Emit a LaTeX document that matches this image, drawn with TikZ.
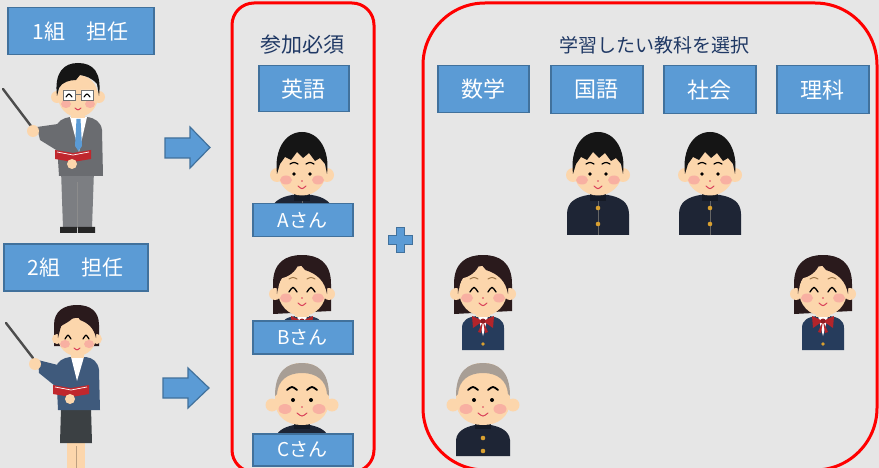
\documentclass[tikz,border=0pt]{standalone}
\usepackage{fontspec}
\setmainfont{Noto Sans CJK JP}
\definecolor{bgc}{HTML}{E6E6E6}
\definecolor{boxfill}{HTML}{5B9BD5}
\definecolor{boxline}{HTML}{41719C}
\definecolor{titlec}{HTML}{1F3864}
\definecolor{skin}{HTML}{FCD6AC}
\definecolor{cheek}{HTML}{F8B0A2}
\definecolor{hairc}{HTML}{151515}
\definecolor{girlhair}{HTML}{2A1A1C}
\definecolor{uniform}{HTML}{1E2535}
\definecolor{blazer}{HTML}{263C5C}
\definecolor{bowc}{HTML}{B3242A}
\definecolor{gold}{HTML}{D9A030}
\definecolor{baldhair}{HTML}{A89E95}
\definecolor{mouthc}{HTML}{D9405A}
\definecolor{suit}{HTML}{6A6C70}
\definecolor{suitdark}{HTML}{7C7E82}
\definecolor{tiec}{HTML}{5B9BD5}
\definecolor{bookred}{HTML}{C0272D}
\definecolor{jacketw}{HTML}{3F5A7C}
\definecolor{skirtc}{HTML}{3B4043}
\definecolor{browc}{HTML}{A0784A}
\tikzset{
  label box/.style={draw=boxline, line width=1.5pt, fill=boxfill, text=white,
    inner sep=0pt, anchor=north west},
  frame/.style={draw=red, line width=3pt},
  title text/.style={text=titlec, font=\fontsize{19}{22}\selectfont},
  blue arrow/.style={fill=boxfill, draw=boxline, line width=1.2pt, line join=miter},
  % schoolboy in a stand-collar uniform, origin at the eyes
  boy/.pic={
    \fill[uniform] (-31,63) -- (-31,42) .. controls (-31,30) and (-22,25) .. (-10,23)
      -- (10,23) .. controls (22,25) and (31,30) .. (31,42) -- (31,63) -- cycle;
    \fill[uniform!70!black] (-8,19) rectangle (8,29);
    \draw[black!60, line width=0.6pt] (0,29) -- (0,63);
    \fill[gold] (0,36) circle (2.3) (0,52) circle (2.3);
    \fill[skin] (-25,3) circle (7) (25,3) circle (7);
    \fill[skin] (0,0) ellipse (24 and 23.5);
    \fill[hairc] (-25,2) .. controls (-28,-22) and (-17,-40) .. (0,-40)
      .. controls (17,-40) and (28,-22) .. (25,2) -- (23,-8) -- (18,-14) -- (13,-11)
      -- (7,-19) -- (1,-14) -- (-5,-20) -- (-11,-12) -- (-17,-15) -- (-22,-8) -- cycle;
    \fill[cheek] (-16,8) ellipse (6 and 4.5) (16,8) ellipse (6 and 4.5);
    \fill[black] (-8,2) circle (1.8) (8,2) circle (1.8);
    \draw[black, line width=1.2pt, line cap=round] (-12,-8) .. controls (-8,-10) .. (-4,-8)
      (4,-8) .. controls (8,-10) .. (12,-8);
    \fill[mouthc] (0,9) circle (0.8);
    \draw[mouthc, line width=1pt, line cap=round] (-4,14) .. controls (0,17.5) .. (4,14);
  },
  % schoolgirl in a blazer with a bow, origin at the eyes
  girl/.pic={
    \fill[girlhair] (-29,24) -- (-29,-6) .. controls (-29,-28) and (-16,-35) .. (0,-35)
      .. controls (16,-35) and (29,-28) .. (29,-6) -- (29,21) -- cycle;
    \fill[blazer] (-21,60) -- (-21,38) .. controls (-21,30) and (-15,27) .. (-6,26)
      -- (6,26) .. controls (15,27) and (21,30) .. (21,38) -- (21,60) -- cycle;
    \fill[white] (-5,26) -- (5,26) -- (0,46) -- cycle;
    \fill[bowc] (0,31) -- (-11,26) -- (-10,38) -- cycle (0,31) -- (11,26) -- (10,38) -- cycle
      (0,31) -- (-5,42) -- (-2,43) -- cycle (0,31) -- (5,42) -- (2,43) -- cycle;
    \fill[bowc!80!black] (0,31) circle (2.5);
    \fill[gold] (0,54) circle (1.8);
    \fill[skin] (-7,20) rectangle (7,27);
    \fill[skin] (-27,4) circle (6) (27,4) circle (6);
    \fill[skin] (0,1) ellipse (24 and 25);
    \fill[girlhair] (-25,4) .. controls (-27,-24) and (-14,-33) .. (0,-33)
      .. controls (14,-33) and (27,-24) .. (25,4) .. controls (23,-8) and (16,-16) .. (3,-20)
      -- (-3,-27) .. controls (-6,-18) and (-14,-13) .. (-20,-12)
      .. controls (-23,-8) and (-24,-3) .. (-25,4) -- cycle;
    \fill[cheek] (-16,8) ellipse (6 and 4.5) (16,8) ellipse (6 and 4.5);
    \draw[browc, line width=1pt, line cap=round] (-13,-11) .. controls (-9,-13) .. (-5,-11)
      (5,-11) .. controls (9,-13) .. (13,-11);
    \draw[black, line width=1.3pt, line cap=round] (-13,2) .. controls (-9,-4) .. (-5,2)
      (5,2) .. controls (9,-4) .. (13,2);
    \fill[mouthc] (0,8) circle (0.8);
    \draw[mouthc, line width=1pt, line cap=round] (-4,13) .. controls (0,16.5) .. (4,13);
  },
  % schoolboy with a buzz cut, origin at the eyes
  buzz/.pic={
    \fill[uniform] (-27,56) -- (-27,40) .. controls (-26,31) and (-18,27) .. (-8,25)
      -- (8,25) .. controls (18,27) and (26,31) .. (27,40) -- (27,56) -- cycle;
    \fill[uniform!70!black] (-8,21) rectangle (8,29);
    \fill[gold] (0,38) circle (2.3) (0,51) circle (2.3);
    \fill[skin] (-30,5) circle (6.5) (30,5) circle (6.5);
    \fill[skin] (-27,0) .. controls (-27,-29) and (-15,-37) .. (0,-37)
      .. controls (15,-37) and (27,-29) .. (27,0) .. controls (27,17) and (15,25) .. (0,25)
      .. controls (-15,25) and (-27,17) .. (-27,0) -- cycle;
    \fill[baldhair] (-27,-4) .. controls (-27,-29) and (-15,-37) .. (0,-37)
      .. controls (15,-37) and (27,-29) .. (27,-4) -- (25,-6) .. controls (24,-20) and (14,-27) .. (0,-27)
      .. controls (-14,-27) and (-24,-20) .. (-25,-6) -- cycle;
    \fill[cheek] (-17,9) ellipse (6.5 and 5) (17,9) ellipse (6.5 and 5);
    \fill[black] (-9,0) circle (2) (9,0) circle (2);
    \draw[black, line width=1.8pt, line cap=round] (-15,-10) .. controls (-10,-14) .. (-5,-10)
      (5,-10) .. controls (10,-14) .. (15,-10);
    \fill[mouthc] (0,7) circle (0.8);
    \draw[mouthc, line width=1pt, line cap=round] (-5,13) .. controls (0,17) .. (5,13);
  },
}
\begin{document}
\begin{tikzpicture}[x=1pt, y=-1pt]
\useasboundingbox (0,0) rectangle (879,468);
\fill[bgc] (0,0) rectangle (879,468);

% ---------- class 1 teacher ----------
\node[label box, minimum width=146pt, minimum height=47pt,
  font=\fontsize{21}{25}\selectfont] (t1) at (7,7) {1組　担任};
\draw[line width=2.4pt, black!70, line cap=round] (3,89) -- (31,126);
\fill[suitdark] (61,170) -- (94,170) -- (92,228) -- (63,228) -- cycle;
\draw[black!45, line width=0.6pt] (77,182) -- (77,228);
\fill[black!85] (60,227) rectangle (77,233) (78,227) rectangle (95,233);
\fill[suit] (56,128) .. controls (57,121) and (63,118) .. (70,117) -- (87,117)
  .. controls (95,118) and (101,122) .. (102,130) -- (103,176) -- (59,176) -- cycle;
\fill[white] (70,117) -- (87,117) -- (79,152) -- cycle;
\fill[tiec] (76.5,119) -- (80.5,119) -- (82,146) -- (78.5,151) -- (75,146) -- cycle;
\fill[suit] (58,124) -- (37,127) -- (40,140) -- (61,153) -- cycle;
\fill[skin] (33,131) circle (6);
\fill[bookred] (55,150) -- (73,153) -- (91,150) -- (91,159) -- (73,162) -- (55,159) -- cycle;
\draw[white, line width=0.7pt] (57,152) -- (73,155) -- (89,152);
\fill[skin] (72,164) circle (5);
\fill[skin] (71,108) rectangle (85,118);
\fill[skin] (57,97) circle (6) (99,97) circle (6);
\fill[skin] (78,96) ellipse (20 and 21);
\fill[hairc] (57,96) .. controls (54,72) and (64,63) .. (78,63)
  .. controls (93,63) and (102,72) .. (99,96) -- (97,84) .. controls (92,78) and (86,76) .. (80,75)
  -- (76,80) .. controls (70,80) and (62,82) .. (59,88) -- cycle;
\fill[cheek] (66,104) ellipse (5 and 4) (90,104) ellipse (5 and 4);
\draw[black!55, fill=white, line width=0.8pt] (63,90) rectangle (75,100) (81,90) rectangle (93,100);
\draw[black!55, line width=0.8pt] (75,94) -- (81,94);
\draw[black, line width=1.1pt, line cap=round] (66,97) .. controls (69,93) .. (72,97)
  (84,97) .. controls (87,93) .. (90,97);
\draw[mouthc, line width=1pt, line cap=round] (75,108) .. controls (78,110.5) .. (81,108);

\draw[blue arrow] (165,138) -- (190,138) -- (190,127) -- (210,147.5) -- (190,168)
  -- (190,158) -- (165,158) -- cycle;

% ---------- class 2 teacher ----------
\node[label box, minimum width=144pt, minimum height=47pt,
  font=\fontsize{21}{25}\selectfont] (t2) at (3,243) {2組　担任};
\draw[line width=2.4pt, black!70, line cap=round] (6,323) -- (33,358);
\fill[skin] (67,440) rectangle (85,468);
\draw[skin!75!black, line width=0.6pt] (76,446) -- (76,468);
\fill[skirtc] (61,408) -- (91,408) -- (92,443) -- (60,443) -- cycle;
\fill[jacketw] (56,368) .. controls (57,361) and (63,358) .. (70,357) -- (86,357)
  .. controls (93,358) and (98,362) .. (99,370) -- (100,410) -- (58,410) -- cycle;
\fill[white] (71,357) -- (84,357) -- (77,381) -- cycle;
\fill[jacketw] (58,365) -- (38,360) -- (39,373) -- (60,390) -- cycle;
\fill[skin] (35,364) circle (6);
\fill[bookred] (53,385) -- (71,388) -- (89,385) -- (89,394) -- (71,397) -- (53,394) -- cycle;
\draw[white, line width=0.7pt] (55,387) -- (71,390) -- (87,387);
\fill[skin] (70,399) circle (5);
\fill[girlhair] (54,346) -- (54,325) .. controls (54,311) and (64,305) .. (77,305)
  .. controls (90,305) and (99,311) .. (99,325) -- (99,346) -- cycle;
\fill[skin] (71,348) rectangle (84,358);
\fill[skin] (57,339) circle (5) (97,339) circle (5);
\fill[skin] (77,337) ellipse (19 and 19);
\fill[girlhair] (58,338) .. controls (56,316) and (65,308) .. (77,308)
  .. controls (90,308) and (98,316) .. (96,338) .. controls (94,328) and (88,323) .. (80,320)
  -- (76,314) .. controls (73,320) and (66,323) .. (61,326) -- cycle;
\fill[cheek] (65,344) ellipse (5 and 4) (89,344) ellipse (5 and 4);
\draw[black, line width=1.2pt, line cap=round] (65,339) .. controls (68,334) .. (71,339)
  (83,339) .. controls (86,334) .. (89,339);
\draw[mouthc, line width=1pt, line cap=round] (74,348) .. controls (77,350.5) .. (80,348);

\draw[blue arrow] (163,378) -- (188,378) -- (188,368) -- (209,388) -- (188,408)
  -- (188,398) -- (163,398) -- cycle;

% ---------- compulsory subject ----------
\draw[frame] (232,3) [rounded corners=22pt] -- (374,3) -- (374,472) -- (232,472) -- cycle;
\node[title text, font=\fontsize{21}{24}\selectfont] (req) at (302,45) {参加必須};
\node[label box, minimum width=90pt, minimum height=46pt,
  font=\fontsize{22}{26}\selectfont] (eng) at (258,65) {英語};

\pic at (302,172) {boy};
\node[label box, minimum width=100pt, minimum height=33pt,
  font=\fontsize{19}{22}\selectfont] (sa) at (252,203) {Aさん};
\pic at (302,290) {girl};
\node[label box, minimum width=100pt, minimum height=33pt,
  font=\fontsize{19}{22}\selectfont] (sb) at (252,320) {Bさん};
\pic at (302,400) {buzz};
\node[label box, minimum width=100pt, minimum height=32pt,
  font=\fontsize{19}{22}\selectfont] (sc) at (252,433) {Cさん};

\draw[blue arrow, line width=1pt] (396,228) -- (404,228) -- (404,236) -- (412,236) -- (412,244)
  -- (404,244) -- (404,252) -- (396,252) -- (396,244) -- (388,244) -- (388,236)
  -- (396,236) -- cycle;

% ---------- elective subjects ----------
\draw[frame] (423,3) [rounded corners=62pt] -- (877,3) -- (877,470) -- (423,470) -- cycle;
\node[title text] (sel) at (654,45) {学習したい教科を選択};
\node[label box, minimum width=91pt, minimum height=47pt,
  font=\fontsize{22}{26}\selectfont] (math) at (437,65) {数学};
\node[label box, minimum width=92pt, minimum height=48pt,
  font=\fontsize{22}{26}\selectfont] (jpn) at (550,65) {国語};
\node[label box, minimum width=92pt, minimum height=48pt,
  font=\fontsize{22}{26}\selectfont] (soc) at (663,65) {社会};
\node[label box, minimum width=92pt, minimum height=48pt,
  font=\fontsize{22}{26}\selectfont] (sci) at (776,65) {理科};

\pic at (598,172) {boy};
\pic at (710,172) {boy};
\pic at (483,290) {girl};
\pic at (823,290) {girl};
\pic at (483,400) {buzz};
\end{tikzpicture}
\end{document}
